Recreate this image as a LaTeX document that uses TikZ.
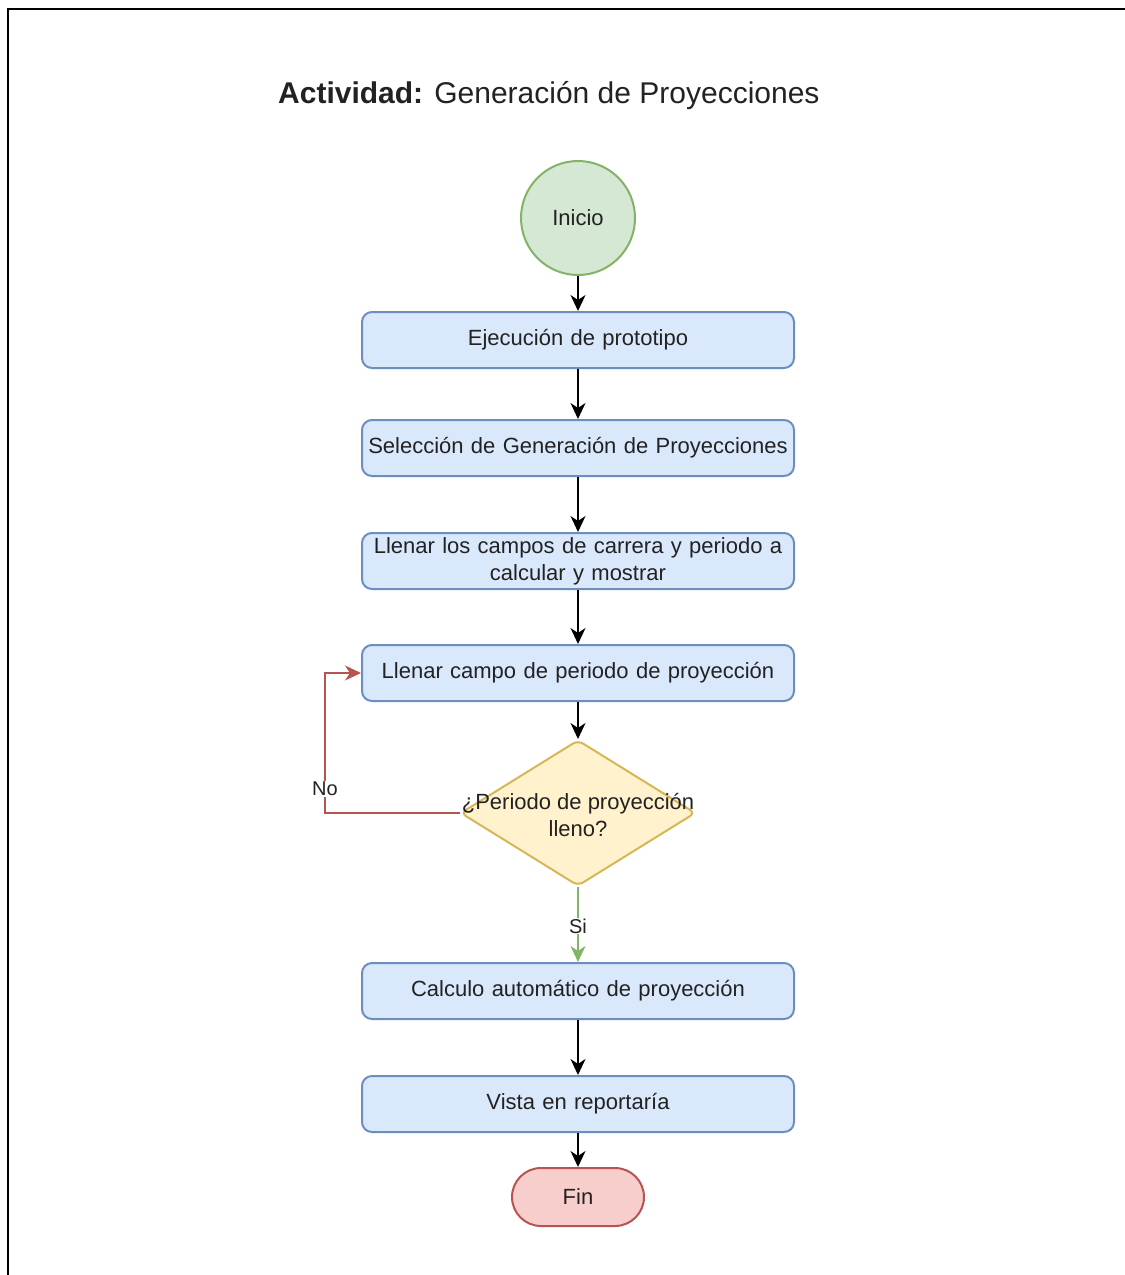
\documentclass[tikz,border=0pt]{standalone}
\usepackage{fontspec}
\setmainfont{Liberation Sans}
\usetikzlibrary{shapes.geometric,arrows.meta}

\definecolor{bluefill}{HTML}{DAE8FC}
\definecolor{bluedraw}{HTML}{6C8EBF}
\definecolor{greenfill}{HTML}{D5E8D4}
\definecolor{greendraw}{HTML}{82B366}
\definecolor{yellowfill}{HTML}{FFF2CC}
\definecolor{yellowdraw}{HTML}{D6B656}
\definecolor{redfill}{HTML}{F8CECC}
\definecolor{reddraw}{HTML}{B85450}
\definecolor{textcol}{HTML}{222222}

\tikzset{
  every node/.style={text=textcol},
  txt/.style={font=\fontsize{22}{27}\selectfont},
  stepbox/.style={txt, draw=bluedraw, fill=bluefill, line width=2pt,
    rounded corners=10pt, minimum width=432pt, minimum height=56pt,
    inner sep=0pt, align=center, text width=430pt},
  startnode/.style={txt, circle, draw=greendraw, fill=greenfill,
    line width=2pt, minimum size=114pt, inner sep=0pt},
  endnode/.style={txt, draw=reddraw, fill=redfill, line width=2pt,
    rounded corners=29pt, minimum width=132pt, minimum height=58pt, inner sep=0pt},
  decision/.style={diamond, draw=yellowdraw, fill=yellowfill, line width=2pt,
    rounded corners=6pt, minimum width=235pt, minimum height=146pt, inner sep=0pt},
  tip/.style={-{Stealth[length=16pt,width=15pt,inset=5pt]}},
  flow/.style={line width=1.8pt, tip},
  noflow/.style={line width=1.5pt, draw=reddraw, tip},
  yesflow/.style={line width=1.5pt, draw=greendraw, tip},
  edgelabel/.style={fill=white, inner sep=1pt, font=\fontsize{20}{24}\selectfont},
}

\begin{document}
\begin{tikzpicture}[x=1pt,y=-1pt]
  % page extent and frame
  \useasboundingbox (0,0) rectangle (1125,1275);
  \draw[line width=2.5pt] (8,1275) -- (8,9) -- (1125,9);

  % title
  \node[anchor=base west, font=\fontsize{30}{35}\selectfont, inner sep=0pt] (title)
    at (278,103) {\textbf{Actividad:} Generación de Proyecciones};

  % nodes
  \node[startnode] (start) at (578,218) {Inicio};
  \node[stepbox] (b1) at (578,340) {Ejecución de prototipo};
  \node[stepbox] (b2) at (578,448) {Selección de Generación de Proyecciones};
  \node[stepbox] (b3) at (578,561) {Llenar los campos de carrera y periodo a\\calcular y mostrar};
  \node[stepbox] (b4) at (578,673) {Llenar campo de periodo de proyección};
  \node[decision] (dec) at (578,813) {};
  \node[txt, align=center, inner sep=0pt] (dectext) at (578,815)
    {¿Periodo de proyección\\lleno?};
  \node[stepbox] (b5) at (578,991) {Calculo automático de proyección};
  \node[stepbox] (b6) at (578,1104) {Vista en reportaría};
  \node[endnode] (fin) at (578,1197) {Fin};

  % connectors
  \draw[flow] (start) -- (b1);
  \draw[flow] (b1) -- (b2);
  \draw[flow] (b2) -- (b3);
  \draw[flow] (b3) -- (b4);
  \draw[flow] (b4) -- (dec);
  \coordinate (loopcorner) at (325,813);
  \draw[noflow] (dec.west) -- (loopcorner) |- (b4.west);
  \node[edgelabel] (nolabel) at (325,789) {No};
  \draw[yesflow] (dec.south) -- (b5.north);
  \node[edgelabel] (silabel) at (578,926) {Si};
  \draw[flow] (b5) -- (b6);
  \draw[flow] (b6) -- (fin);
\end{tikzpicture}
\end{document}
